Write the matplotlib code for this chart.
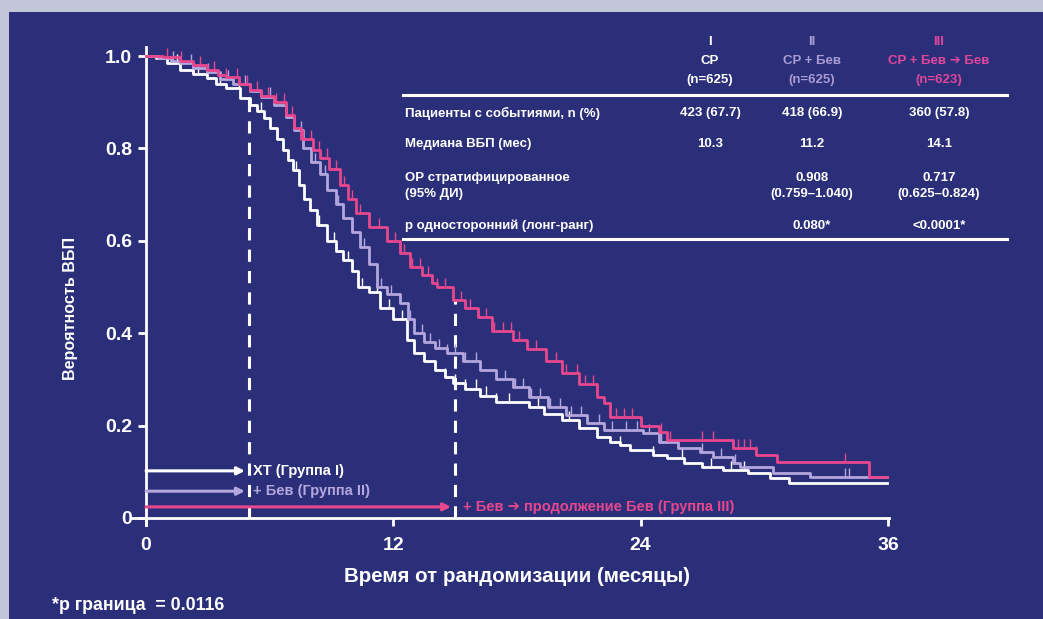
import numpy as np
import matplotlib
matplotlib.use("agg")
import matplotlib.pyplot as plt
from matplotlib.patches import Rectangle
from matplotlib.lines import Line2D

plt.rcParams['font.family'] = ['Liberation Sans', 'DejaVu Sans']

# --- data ---
t_g1 = [0, 0.5, 1.0, 1.65, 2.3, 2.95, 3.4, 3.9, 4.55, 5.05, 5.4, 5.7, 6.0, 6.35, 6.65, 6.9,
        7.15, 7.4, 7.65, 7.95, 8.3, 8.8, 9.2, 9.55, 10.0, 10.3, 10.8, 11.35, 12.0, 12.65, 13.0,
        13.5, 14.0, 14.5, 14.9, 15.5, 16.2, 17.0, 18.6, 19.3, 20.2, 21.0, 21.9, 22.5, 23.0,
        23.5, 24.6, 25.3, 26.1, 27.0, 28.0, 29.2, 30.3, 31.2, 36.0]
s_g1 = [1.0, 0.995, 0.985, 0.97, 0.962, 0.952, 0.94, 0.93, 0.91, 0.894, 0.88, 0.866, 0.845, 0.82,
        0.797, 0.775, 0.753, 0.72, 0.69, 0.667, 0.635, 0.60, 0.578, 0.558, 0.535, 0.50, 0.49,
        0.455, 0.43, 0.385, 0.357, 0.34, 0.32, 0.305, 0.292, 0.28, 0.265, 0.251, 0.24, 0.225,
        0.212, 0.195, 0.175, 0.165, 0.158, 0.147, 0.136, 0.13, 0.119, 0.11, 0.104, 0.097,
        0.087, 0.076, 0.076]

t_g2 = [0, 0.6, 1.2, 1.65, 2.3, 2.95, 3.6, 4.2, 5.05, 5.6, 6.2, 6.8, 7.2, 7.6, 8.0, 8.45, 8.8,
        9.2, 9.55, 10.0, 10.4, 10.8, 11.2, 11.7, 12.3, 12.7, 13.0, 13.5, 14.0, 14.6, 15.4, 16.2,
        17.0, 17.8, 18.6, 19.5, 20.4, 21.4, 22.2, 24.1, 24.9, 25.8, 26.9, 27.5, 28.5, 28.8,
        30.4, 32.2, 36.0]
s_g2 = [1.0, 0.995, 0.99, 0.985, 0.975, 0.965, 0.95, 0.94, 0.925, 0.912, 0.895, 0.868, 0.84,
        0.80, 0.77, 0.745, 0.71, 0.68, 0.65, 0.62, 0.587, 0.55, 0.50, 0.485, 0.465, 0.43, 0.40,
        0.38, 0.368, 0.357, 0.34, 0.32, 0.30, 0.284, 0.262, 0.24, 0.222, 0.205, 0.19, 0.184,
        0.165, 0.151, 0.143, 0.132, 0.119, 0.11, 0.097, 0.089, 0.089]

t_g3 = [0, 0.8, 1.65, 2.3, 2.95, 3.5, 3.9, 4.5, 5.05, 5.6, 6.2, 6.8, 7.2, 7.5, 8.1, 8.45, 8.9,
        9.4, 9.8, 10.2, 10.8, 11.7, 12.3, 12.8, 13.4, 13.9, 14.1, 14.9, 15.5, 16.1, 16.8, 17.8,
        18.5, 19.4, 20.2, 21.0, 21.9, 22.2, 22.5, 24.0, 24.9, 25.3, 28.5, 29.6, 30.6, 35.1, 36.0]
s_g3 = [1.0, 0.998, 0.99, 0.98, 0.97, 0.96, 0.955, 0.94, 0.926, 0.913, 0.90, 0.872, 0.845, 0.82,
        0.797, 0.78, 0.755, 0.72, 0.69, 0.66, 0.63, 0.60, 0.573, 0.543, 0.525, 0.508, 0.50,
        0.472, 0.455, 0.435, 0.405, 0.385, 0.365, 0.34, 0.314, 0.29, 0.262, 0.249, 0.219, 0.20,
        0.186, 0.168, 0.151, 0.136, 0.121, 0.089, 0.089]

cens_g1 = [1.5, 2.5, 3.6, 4.5, 5.6, 7.3, 8.4, 9.1, 9.8, 10.5, 11.2, 11.8, 12.4, 13.0, 13.5, 14.0,
           14.5, 15.0, 15.5, 16.0, 16.5, 17.0, 17.6, 19.0, 20.5, 21.9, 23.0, 24.6, 26.0, 27.4,
           28.4, 29.0]
cens_g2 = [1.3, 2.2, 3.0, 4.0, 4.8, 6.0, 7.5, 8.2, 8.7, 9.3, 10.0, 10.6, 11.4, 11.9, 12.3, 12.8,
           13.4, 13.8, 14.2, 14.6, 15.0, 15.5, 16.0, 17.4, 17.9, 18.3, 18.7, 19.1, 19.6, 20.1,
           20.6, 21.1, 22.0, 22.6, 23.3, 23.8, 24.4, 25.0, 27.0, 27.9, 28.6, 33.9, 34.1]
cens_g3 = [1.0, 1.7, 2.6, 3.3, 3.9, 4.4, 4.9, 5.4, 5.9, 6.3, 6.7, 7.1, 7.6, 8.0, 8.4, 8.8, 9.2,
           9.6, 10.0, 10.4, 10.8, 11.3, 11.7, 12.1, 12.5, 12.9, 13.3, 13.7, 14.1, 14.5, 14.9,
           15.3, 15.7, 16.1, 16.5, 16.9, 17.3, 17.7, 18.1, 18.5, 18.9, 19.4, 19.9, 20.4, 20.9,
           21.3, 21.7, 22.8, 23.2, 23.6, 24.0, 25.0, 25.4, 27.0, 27.5, 28.7, 29.0, 29.3, 29.6,
           33.9]

x_ticks = [0, 12, 24, 36]
y_ticks = [0, 0.2, 0.4, 0.6, 0.8, 1.0]
y_ticklabels = ['0', '0.2', '0.4', '0.6', '0.8', '1.0']

col_heads = [['I', 'CP', '(n=625)'],
             ['II', 'CP + Бев', '(n=625)'],
             ['III', 'CP + Бев ➔ Бев', '(n=623)']]
row_labels = ['Пациенты с событиями, n (%)', 'Медиана ВБП (мес)',
              'ОР стратифицированное\n(95% ДИ)', 'р односторонний (лонг-ранг)']
col_vals = [['423 (67.7)', '10.3', '', ''],
            ['418 (66.9)', '11.2', '0.908\n(0.759–1.040)', '0.080*'],
            ['360 (57.8)', '14.1', '0.717\n(0.625–0.824)', '<0.0001*']]

navy = '#2b2f7a'
border = '#c2c5d9'
lav = '#b4a7de'
pink = '#e8478e'
white = '#ffffff'
head_colors = [white, '#a99cd4', '#e0469a']

W, H = 1043, 619
fig = plt.figure(figsize=(W / 100, H / 100), dpi=100, facecolor=border)
fig.patches.append(Rectangle((9 / W, 0), 1, 1 - 12 / H, transform=fig.transFigure,
                             facecolor=navy, edgecolor='none', zorder=-10))

ax = fig.add_axes([131.6 / W, (H - 524.9) / H, 757.4 / W, 478.1 / H])
ax.set_facecolor('none')
ax.set_xlim(-0.7, 36.05)
ax.set_ylim(-0.015, 1.02)


def step_val(ts, ss, t):
    i = np.searchsorted(ts, t, side='right') - 1
    return ss[i]


groups = [(t_g1, s_g1, cens_g1, white), (t_g2, s_g2, cens_g2, lav), (t_g3, s_g3, cens_g3, pink)]
for k, (ts, ss, cs, c) in enumerate(groups):
    ax.plot(ts, ss, drawstyle='steps-post', color=c, lw=2, zorder=3 + k)
    cy = [step_val(ts, ss, t) for t in cs]
    ax.vlines(cs, cy, np.array(cy) + 0.02, color=c, lw=1, zorder=3 + k)

# dashed reference lines
ax.vlines(5, 0, 0.92, color=white, lw=2.2, linestyles=(0, (4, 3)), zorder=2)
ax.vlines(15, 0, 0.472, color=white, lw=2.2, linestyles=(0, (4, 3)), zorder=2)

# treatment arrows
arrows = [(4.8, 0.102, white, 'ХТ (Группа I)', 5.2),
          (4.8, 0.058, lav, '+ Бев (Группа II)', 5.2),
          (14.8, 0.024, pink, '+ Бев ➔ продолжение Бев (Группа III)', 15.4)]
for xe, yv, c, lab, xt in arrows:
    ax.annotate('', xy=(xe, yv), xytext=(0, yv),
                arrowprops=dict(arrowstyle='-|>', color=c, lw=2.2, mutation_scale=11,
                                shrinkA=0, shrinkB=0))
    ax.text(xt, yv, lab, color=c, fontsize=10.5, fontweight='bold', va='center', ha='left')

# axes styling
for s in ['top', 'right']:
    ax.spines[s].set_visible(False)
ax.spines['left'].set_position(('data', 0))
ax.spines['bottom'].set_position(('data', 0))
for s in ['left', 'bottom']:
    ax.spines[s].set_color(white)
    ax.spines[s].set_linewidth(2)
ax.set_xticks(x_ticks)
ax.set_yticks(y_ticks)
ax.set_yticklabels(y_ticklabels)
ax.tick_params(colors=white, width=2, length=6, labelsize=14, pad=4)
ax.tick_params(axis='x', pad=8)
for lab in ax.get_xticklabels() + ax.get_yticklabels():
    lab.set_fontweight('bold')

fig.text(517 / W, 1 - 577 / H, 'Время от рандомизации (месяцы)', color=white,
         fontsize=14.8, fontweight='bold', ha='center', va='center')
fig.text(70 / W, 1 - 308 / H, 'Вероятность ВБП', color=white, fontsize=11.6,
         fontweight='bold', rotation=90, ha='center', va='center')
fig.text(52 / W, 1 - 605 / H, '*р граница  = 0.0116', color=white, fontsize=12.8,
         fontweight='bold', ha='left', va='center')

# table
col_x = [710, 812, 939]
head_y = [42, 61, 80]
for j in range(3):
    for i in range(3):
        fig.text(col_x[j] / W, 1 - head_y[i] / H, col_heads[j][i], color=head_colors[j],
                 fontsize=9.5, fontweight='bold', ha='center', va='center')

row_y = [113, 144, 186, 226]
for i, lab in enumerate(row_labels):
    fig.text(405 / W, 1 - row_y[i] / H, lab, color=white, fontsize=9.5, fontweight='bold',
             ha='left', va='center', linespacing=1.55)
    for j in range(3):
        fig.text(col_x[j] / W, 1 - row_y[i] / H, col_vals[j][i], color=white, fontsize=9.5,
                 fontweight='bold', ha='center', va='center', linespacing=1.55)

for yy in [95, 239]:
    fig.add_artist(Line2D([403 / W, 1007 / W], [1 - yy / H, 1 - yy / H], color=white,
                          lw=2.2, transform=fig.transFigure))

fig.savefig('out.png', dpi=100, facecolor=fig.get_facecolor())
